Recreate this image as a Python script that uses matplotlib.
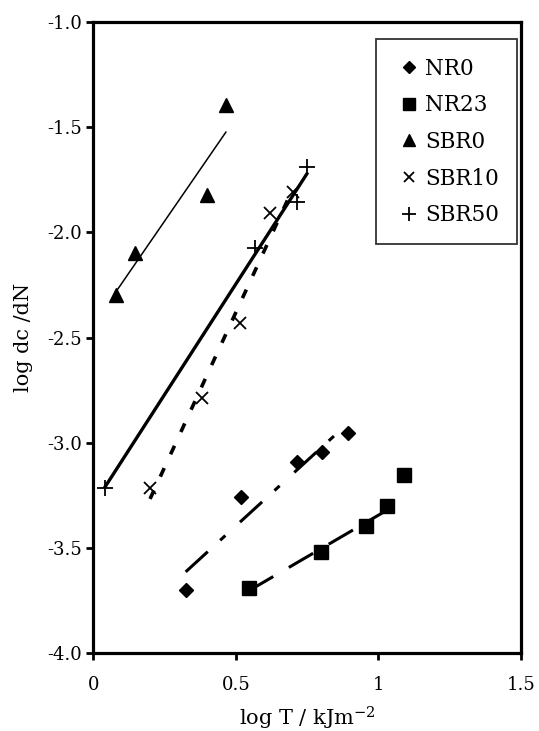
import numpy as np
import matplotlib.pyplot as plt

plt.rcParams['font.family'] = 'DejaVu Serif'
plt.rcParams['mathtext.fontset'] = 'dejavuserif'
plt.rcParams['axes.unicode_minus'] = False

# log T (kJ/m2) vs log dc/dN
nr0_x = [0.324, 0.518, 0.714, 0.801, 0.893]
nr0_y = [-3.697, -3.259, -3.090, -3.043, -2.955]

nr23_x = [0.546, 0.798, 0.956, 1.029, 1.090]
nr23_y = [-3.692, -3.521, -3.394, -3.299, -3.153]

sbr0_x = [0.080, 0.146, 0.398, 0.465]
sbr0_y = [-2.298, -2.097, -1.823, -1.396]

sbr10_x = [0.199, 0.380, 0.515, 0.620, 0.701]
sbr10_y = [-3.215, -2.789, -2.433, -1.909, -1.808]

sbr50_x = [0.041, 0.567, 0.714, 0.749]
sbr50_y = [-3.215, -2.075, -1.855, -1.689]

x_ticks = [0, 0.5, 1, 1.5]
x_ticklabels = ["0", "0.5", "1", "1.5"]
y_ticks = [-4.0, -3.5, -3.0, -2.5, -2.0, -1.5, -1.0]


def trend(x, y):
    # straight least squares line over the range of the points
    k, b = np.polyfit(x, y, 1)
    xs = np.array([min(x), max(x)])
    return xs, k * xs + b


fig = plt.figure(figsize=(5.39, 7.31), dpi=100)
ax = fig.add_axes([0.1731, 0.1063, 0.7935, 0.864])

# trend lines
xs, ys = trend(nr0_x, nr0_y)
ax.plot(xs, ys, color="black", lw=2.2, linestyle=(0, (9.8, 5.5, 2.3, 6.5)))
xs, ys = trend(nr23_x[:4], nr23_y[:4])   # last point left out of the fit
ax.plot(xs, ys, color="black", lw=2.2, linestyle=(0, (9.2, 5.9)))
xs, ys = trend(sbr0_x, sbr0_y)
ax.plot(xs, ys, color="black", lw=1.1)
xs, ys = trend(sbr10_x, sbr10_y)
ax.plot(xs, ys, color="black", lw=2.6, linestyle=(0, (2.6, 4.2)))
xs, ys = trend(sbr50_x, sbr50_y)
ax.plot(xs, ys, color="black", lw=2.4)

# points
ax.plot(nr0_x, nr0_y, "D", color="black", ms=7.5, ls="none", label="NR0")
ax.plot(nr23_x, nr23_y, "s", color="black", ms=10.5, ls="none", label="NR23")
ax.plot(sbr0_x, sbr0_y, "^", color="black", ms=10, ls="none", label="SBR0")
ax.plot(sbr10_x, sbr10_y, "x", color="black", ms=9, mew=1.3, ls="none", label="SBR10")
ax.plot(sbr50_x, sbr50_y, "+", color="black", ms=12, mew=1.3, ls="none", label="SBR50")

ax.set_xlim(0, 1.5)
ax.set_ylim(-4.0, -1.0)
ax.set_xticks(x_ticks)
ax.set_xticklabels(x_ticklabels)
ax.set_yticks(y_ticks)
ax.set_yticklabels(["%.1f" % v for v in y_ticks])

for s in ax.spines.values():
    s.set_linewidth(2.3)
ax.tick_params(axis="both", direction="out", length=5, width=2, labelsize=13)
ax.tick_params(axis="x", pad=11)
ax.tick_params(axis="y", pad=3)

ax.set_xlabel("log T / kJm$^{-2}$", fontsize=15, labelpad=8)
ax.set_ylabel("log dc /dN", fontsize=15, labelpad=10)

leg = ax.legend(loc="upper right", bbox_to_anchor=(517 / 539, 1 - 39.3 / 731),
                bbox_transform=fig.transFigure, borderaxespad=0, fontsize=15.5,
                handlelength=1.3, handletextpad=0.1, borderpad=0.85,
                labelspacing=0.68, markerscale=0.85, fancybox=False, numpoints=1)
leg.get_frame().set_edgecolor("black")
leg.get_frame().set_linewidth(1.3)

plt.savefig("out.png", dpi=100)
